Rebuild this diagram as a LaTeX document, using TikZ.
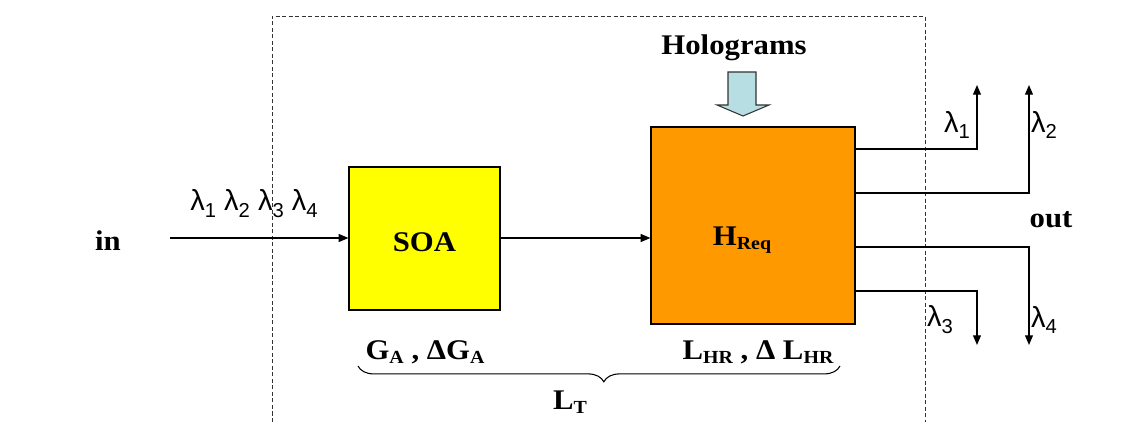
\documentclass[tikz,border=0pt]{standalone}
\usepackage{fontspec}
\setmainfont{Liberation Serif}
\newfontfamily\bser{Liberation Serif}[FakeStretch=1.08]
\newfontfamily\lsans{Liberation Sans}
\usetikzlibrary{arrows.meta,decorations.pathreplacing}
\definecolor{holo}{RGB}{183,222,226}
\definecolor{orangebox}{RGB}{255,153,0}
\definecolor{yellowbox}{RGB}{255,255,0}
\newcommand\lowsub[1]{\raisebox{-0.35ex}{\fontsize{10.5}{12}\selectfont #1}}
\newcommand\lamsub[1]{\raisebox{-0.45ex}{\fontsize{11.5}{12}\selectfont #1}}
\tikzset{
  lbl/.style={font=\bser\bfseries\fontsize{16.2}{19}\selectfont, inner sep=0pt},
  lam/.style={font=\lsans\fontsize{16.5}{19}\selectfont, inner sep=0pt},
  blockbox/.style={draw=black, line width=0.7pt, inner sep=0pt},
  conn/.style={line width=0.7pt},
  arr/.style={conn, -{Triangle[length=5.5pt,width=4.5pt]}},
  frame/.style={draw=black!80, line width=0.55pt, dash pattern=on 2.4pt off 1.3pt}
}
\begin{document}
\begin{tikzpicture}[x=0.02cm,y=-0.02cm]
\useasboundingbox (0,0) rectangle (1143,422);
% dashed frame
\draw[frame] (272,422) -- (272,16) -- (925,16) -- (925,422);
% blocks
\node[blockbox, fill=yellowbox, minimum width=3.02cm, minimum height=2.86cm] (soa) at (424.5,238.5) {};
\node[lbl] (soat) at (424.5,242) {SOA};
\node[blockbox, fill=orangebox, minimum width=4.08cm, minimum height=3.94cm] (h) at (753,225.5) {};
\node[lbl] (hreq) at (742,240) {H\lowsub{Req}};
% input
\node[lbl] (in) at (108,241) {in};
\coordinate (inS) at (170,238);
\node[lam, anchor=base] (lin) at (254,211) {λ\lamsub{1} λ\lamsub{2} λ\lamsub{3} λ\lamsub{4}};
\draw[arr] (inS) -- (inS -| soa.west);
\draw[arr] (soa.east |- inS) -- (inS -| h.west);
% holograms
\node[lbl] (holo) at (734,48) {Holograms};
\draw[black!80, line width=0.6pt, fill=holo] (728,72) -- (756,72) -- (756,105) -- (769,105) -- (743,116) -- (717,105) -- (728,105) -- cycle;
% outputs
\coordinate (t1) at (977,85);
\coordinate (t2) at (1029,85);
\coordinate (t3) at (1029,345);
\coordinate (t4) at (977,345);
\draw[arr] (h.east |- 0,149) -- (t1 |- 0,149) -- (t1);
\draw[arr] (h.east |- 0,193) -- (t2 |- 0,193) -- (t2);
\draw[arr] (h.east |- 0,247) -- (t3 |- 0,247) -- (t3);
\draw[arr] (h.east |- 0,291) -- (t4 |- 0,291) -- (t4);
\node[lam] (l1) at (957,125) {λ\lamsub{1}};
\node[lam] (l2) at (1044,125) {λ\lamsub{2}};
\node[lam] (l3) at (940,320) {λ\lamsub{3}};
\node[lam] (l4) at (1044,320) {λ\lamsub{4}};
\node[lbl] (out) at (1051,220) {out};
% bottom labels
\node[lbl] (ga) at (425,352) {G\lowsub{A} , ΔG\lowsub{A}};
\node[lbl] (lhr) at (758,352) {L\lowsub{HR} , Δ L\lowsub{HR}};
\draw[line width=0.6pt, decorate, decoration={brace, amplitude=9pt, mirror, aspect=0.51}] (358,366) -- (840,366);
\node[lbl] (lt) at (570,402) {L\lowsub{T}};
\end{tikzpicture}
\end{document}
